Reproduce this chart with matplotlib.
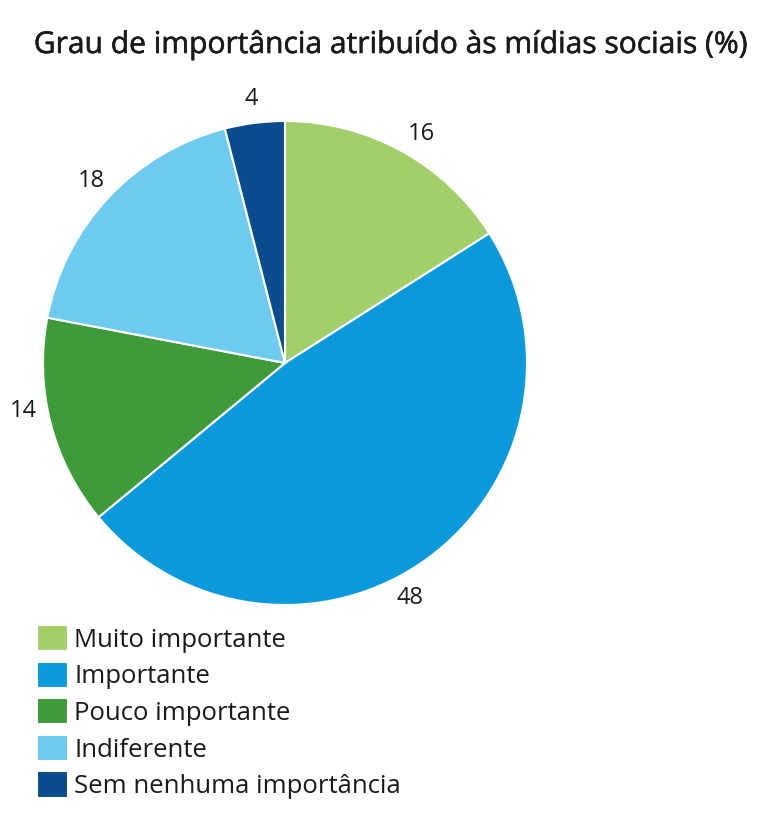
import matplotlib.pyplot as plt
import matplotlib.patheffects as pe
import numpy as np

# data
categories = ["Muito importante", "Importante", "Pouco importante",
              "Indiferente", "Sem nenhuma importância"]
values = [16, 48, 14, 18, 4]
colors = ["#a3cf6a", "#0a9adb", "#3f9a3a", "#6dcbf0", "#0b4c8e"]
# small angular nudges (degrees) so labels sit where the original has them
label_shift = [-2, -8, -4, 0, 0]

plt.rcParams['font.family'] = ['Open Sans', 'DejaVu Sans']

fig = plt.figure(figsize=(7.72, 8.26), dpi=100)

# pie axes placed in pixel terms: center (285, 363), radius 242
ax = fig.add_axes([43 / 772, 1 - 605 / 826, 484 / 772, 484 / 826])
wedges, _ = ax.pie(values, colors=colors, startangle=90, counterclock=False,
                   radius=1,
                   wedgeprops=dict(edgecolor="white", linewidth=1.5))
for w, v, s in zip(wedges, values, label_shift):
    ang = np.deg2rad((w.theta1 + w.theta2) / 2 + s)
    ax.text(1.1 * np.cos(ang), 1.1 * np.sin(ang), str(v), ha="center", va="center",
            fontsize=17, color="#1a1a1a")
ax.set_xlim(-1, 1)
ax.set_ylim(-1, 1)
ax.set_aspect("equal")

fig.text(391 / 772, 1 - 45 / 826, "Grau de importância atribuído às mídias sociais (%)",
         ha="center", va="center", fontsize=21.6, color="#1a1a1a",
         path_effects=[pe.withStroke(linewidth=0.4, foreground="#1a1a1a")])

fig.legend(wedges, categories, loc="upper left",
           bbox_to_anchor=(37 / 772, 1 - 625 / 826), frameon=False,
           fontsize=18.5, handlelength=1.2, handleheight=1.2,
           handletextpad=0.25, labelspacing=0.34, borderpad=0, borderaxespad=0,
           labelcolor="#1a1a1a")

fig.savefig("out.png", dpi=100)
